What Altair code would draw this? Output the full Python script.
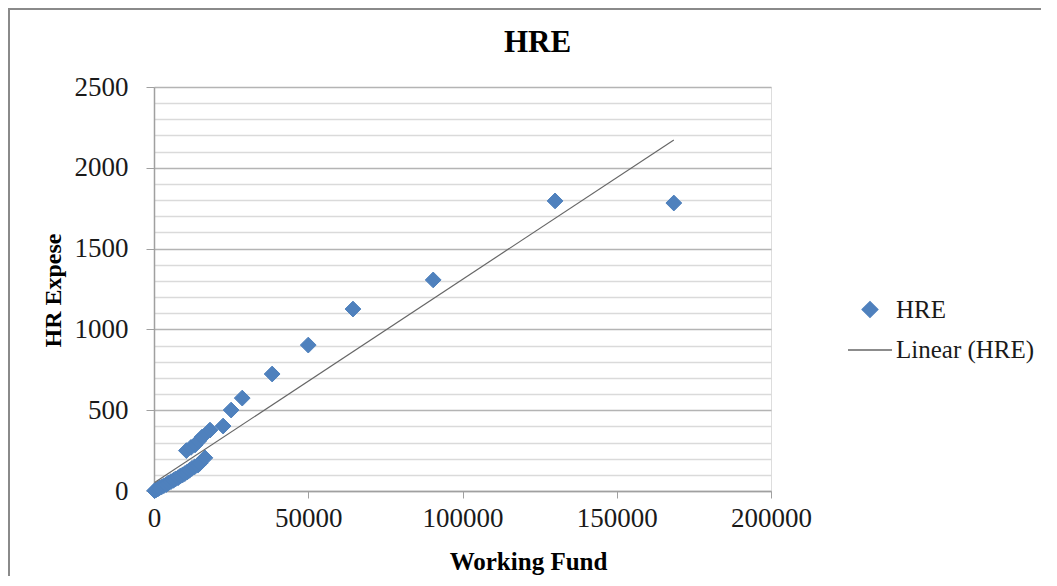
import altair as alt
import pandas as pd

# ---- data ----
working_fund = [200, 600, 1200, 1800, 2500, 3200, 4000, 4700, 5500, 6300, 7000, 7800,
                8500, 9300, 10000, 10800, 11500, 12300, 13200, 14200, 14900,
                10500, 12000, 13300, 14500, 15600, 16500, 18150, 22400, 25000,
                28600, 38300, 50000, 64500, 90500, 130000, 168500]
hr_expense = [2, 6, 12, 20, 26, 33, 40, 50, 58, 66, 75, 82,
              92, 100, 108, 118, 128, 140, 150, 160, 172,
              250, 270, 285, 310, 334, 205, 377, 402, 501,
              575, 724, 903, 1126, 1306, 1795, 1782]
series_names = ["HRE", "Linear (HRE)"]
x_ticks = [0, 50000, 100000, 150000, 200000]
y_grid = list(range(0, 2501, 100))

df = pd.DataFrame({"fund": working_fund, "hre": hr_expense, "series": series_names[0]})
frame_df = pd.DataFrame({"k": [0]})

FONT = "Liberation Serif"
BLUE = "#4F81BD"
LINE = "#666666"

color_scale = alt.Scale(domain=series_names, range=[BLUE, LINE])
shape_scale = alt.Scale(domain=series_names, range=["diamond", "stroke"])
size_scale = alt.Scale(domain=series_names, range=[250, 1936])
x_scale = alt.Scale(domain=[0, 200000], nice=False)
y_scale = alt.Scale(domain=[0, 2500], nice=False)

legend = alt.Legend(title=None, orient="none", legendX=693, legendY=210,
                    labelFont=FONT, labelFontSize=25, labelColor="#1a1a1a",
                    labelOffset=3, rowPadding=4, symbolStrokeWidth=1.3)

x_axis = alt.Axis(values=x_ticks, format="d", grid=False, title="Working Fund",
                  labelFont=FONT, labelFontSize=27, labelColor="#1a1a1a",
                  labelFlush=False, labelOverlap=False,
                  labelPadding=7, tickSize=7, tickColor="#a0a0a0",
                  domainColor="#a0a0a0", domainWidth=1.5,
                  titleFont=FONT, titleFontSize=25, titleFontWeight="bold",
                  titleColor="#000", titleX=374, titleY=78,
                  titleBaseline="alphabetic", titleAlign="center")

y_axis = alt.Axis(values=y_grid, grid=True, title="HR Expese", format="d",
                  labelExpr="datum.value % 500 === 0 ? datum.label : ''",
                  labelFlush=False, labelOverlap=False,
                  gridColor={"condition": {"test": "datum.value % 500 === 0", "value": "#b4b4b4"},
                             "value": "#dadada"},
                  gridWidth=1.3,
                  tickColor={"condition": {"test": "datum.value % 500 === 0", "value": "#a0a0a0"},
                             "value": "transparent"},
                  tickSize=8, labelPadding=18,
                  labelFont=FONT, labelFontSize=27, labelColor="#1a1a1a",
                  domainColor="#a0a0a0", domainWidth=1.5,
                  titleFont=FONT, titleFontSize=24, titleFontWeight="bold",
                  titleColor="#000", titleX=-94, titleY=203, titleAngle=270,
                  titleBaseline="alphabetic", titleAlign="center")

frame = alt.Chart(frame_df).mark_rect(filled=False, stroke="#8a8a8a", strokeWidth=2).encode(
    x=alt.value(-145), x2=alt.value(920), y=alt.value(-78), y2=alt.value(540)
)

points = alt.Chart(df).mark_point(filled=True, opacity=1, strokeWidth=1).encode(
    x=alt.X("fund:Q", scale=x_scale, axis=x_axis),
    y=alt.Y("hre:Q", scale=y_scale, axis=y_axis),
    color=alt.Color("series:N", scale=color_scale, legend=legend),
    stroke=alt.Stroke("series:N", scale=color_scale, legend=legend),
    shape=alt.Shape("series:N", scale=shape_scale, legend=legend),
    size=alt.Size("series:N", scale=size_scale, legend=legend),
)

trend = alt.Chart(df).transform_regression("fund", "hre").transform_calculate(
    series="'Linear (HRE)'"
).mark_line(strokeWidth=1.2).encode(
    x=alt.X("fund:Q", scale=x_scale, axis=x_axis),
    y=alt.Y("hre:Q", scale=y_scale, axis=y_axis),
    color=alt.Color("series:N", scale=color_scale, legend=legend),
)

chart = alt.layer(frame, points, trend).properties(
    width=617, height=404,
    title=alt.TitleParams("HRE", font=FONT, fontSize=31, fontWeight="bold",
                          color="#000", anchor="middle", frame="group", dx=75, offset=-51),
    padding={"left": 146, "top": 79, "right": 270, "bottom": 85},
    autosize=alt.AutoSizeParams(type="none"),
).configure_view(stroke=None).configure(background="white")

chart.save("out.html", embed_options={"renderer": "svg", "actions": False})
